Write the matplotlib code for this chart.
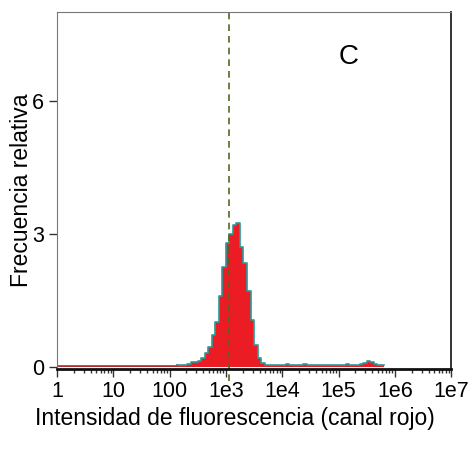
"""Histograma de fluorescencia (canal rojo), panel C."""

import matplotlib

matplotlib.use("Agg")
import matplotlib.pyplot as plt
import numpy as np
from matplotlib.ticker import FixedLocator, LogLocator, NullFormatter

plt.rcParams["font.family"] = ["Liberation Sans", "DejaVu Sans"]

# bins: 16 por decada, de 1 a 1e7
log_edges = np.linspace(0, 7, 113)

freq = (
    [0.015] * 34
    + [0.05, 0.05, 0.05, 0.06, 0.1, 0.1, 0.12, 0.2, 0.3, 0.45,
       0.72, 1.0, 1.6, 2.25, 2.8, 3.0, 3.2, 3.25, 2.7, 2.35,
       1.7, 1.06, 0.5, 0.2, 0.08, 0.04, 0.04, 0.05, 0.04, 0.03,
       0.03, 0.07, 0.03, 0.03, 0.03, 0.03, 0.06, 0.03, 0.03, 0.03,
       0.03, 0.04, 0.03, 0.03, 0.03, 0.03, 0.03, 0.05, 0.07, 0.04,
       0.03, 0.04, 0.07, 0.09, 0.12, 0.1, 0.07, 0.05, 0.04]
    + [0.0] * 19
)

median_line = 1135
xticks = [1, 10, 100, 1e3, 1e4, 1e5, 1e6, 1e7]
xtick_labels = ["1", "10", "100", "1e3", "1e4", "1e5", "1e6", "1e7"]
yticks = [0, 3, 6]

edges = 10 ** log_edges
vals = np.array(freq)
n_data = 93  # ultimo bin con cuentas

fig = plt.figure(figsize=(4.7, 4.7), dpi=100)
ax = fig.add_axes([0.121, 0.215, 0.839, 0.7595])

step_y = np.append(vals, vals[-1])
ax.fill_between(edges, step_y, step="post", color="#ec1c24", linewidth=0)
ax.step(edges[:35], step_y[:35], where="post", color="#a83232", linewidth=1.2)
ax.step(edges[34:n_data + 1], np.append(vals[34:n_data], vals[n_data - 1]),
        where="post", color="#2a9a9a", linewidth=1.2)

ax.axvline(median_line, ymin=-0.035, ymax=1, color="#4f6a22", linestyle=(0, (4, 3)),
           linewidth=1.2, clip_on=False)

ax.set_xscale("log")
ax.set_xlim(1, 1e7)
ax.set_ylim(-0.05, 8.0)
ax.set_xticks(xticks)
ax.set_xticklabels(xtick_labels)
ax.xaxis.set_minor_locator(LogLocator(base=10, subs=np.arange(2, 10), numticks=20))
ax.xaxis.set_minor_formatter(NullFormatter())
ax.yaxis.set_major_locator(FixedLocator(yticks))
ax.tick_params(axis="both", which="major", labelsize=15.5, length=6, width=1,
               direction="out", color="#333333", pad=3)
ax.tick_params(axis="x", which="minor", length=3, width=1, color="#333333")

for side in ["top", "left"]:
    ax.spines[side].set_color("#777777")
ax.spines["bottom"].set_color("#111111")
ax.spines["bottom"].set_linewidth(2)
ax.spines["right"].set_color("#222222")
ax.spines["right"].set_linewidth(1.3)

ax.text(0.74, 0.875, "C", transform=ax.transAxes, fontsize=20, ha="center", va="center")

fig.text(0.5, 0.11, "Intensidad de fluorescencia (canal rojo)", fontsize=16.5,
         ha="center", va="center")
fig.text(0.046, 0.595, "Frecuencia relativa", fontsize=16.5, rotation=90,
         ha="center", va="center")

fig.savefig("out.png", dpi=100)
